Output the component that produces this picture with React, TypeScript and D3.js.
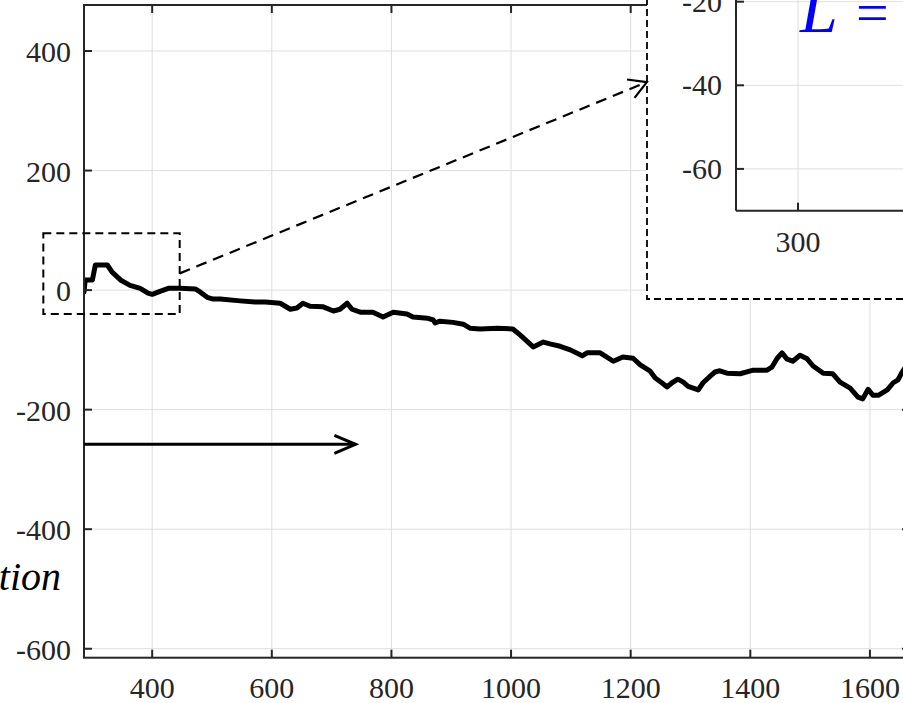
import React from "react";
import * as d3 from "d3";

// ---- data ----
const seriesX = [286, 288, 300, 305, 325, 333, 347, 363, 380, 393, 400, 413, 427, 447, 472, 480, 492, 502, 514, 547, 572, 589, 614, 631, 642, 652, 664, 686, 703, 714, 726, 734, 748, 769, 786, 803, 826, 836, 860, 870, 873, 881, 903, 920, 932, 948, 977, 1003, 1015, 1037, 1054, 1065, 1082, 1099, 1119, 1127, 1149, 1171, 1187, 1204, 1216, 1232, 1241, 1252, 1261, 1269, 1279, 1288, 1296, 1313, 1321, 1333, 1341, 1349, 1361, 1383, 1405, 1428, 1436, 1445, 1453, 1461, 1471, 1483, 1495, 1505, 1522, 1538, 1550, 1567, 1580, 1588, 1597, 1605, 1614, 1629, 1639, 1647, 1654, 1667];
const seriesY = [-3, 17, 17, 42, 42, 30, 17, 8, 3, -5, -7, -2, 3, 3, 2, -3, -12, -15, -15, -18, -20, -20, -22, -32, -30, -22, -27, -28, -35, -32, -22, -32, -37, -37, -45, -37, -40, -45, -47, -50, -55, -52, -54, -57, -64, -65, -64, -65, -75, -95, -87, -90, -94, -100, -110, -105, -105, -119, -112, -114, -125, -135, -147, -155, -162, -155, -149, -154, -161, -167, -155, -144, -137, -135, -139, -140, -134, -134, -129, -114, -105, -115, -119, -109, -115, -127, -139, -140, -154, -164, -179, -182, -166, -176, -176, -167, -155, -150, -137, -117];

const xTicks = [400, 600, 800, 1000, 1200, 1400, 1600];
const yTicks = [-600, -400, -200, 0, 200, 400];
const insetXTicks = [300];
const insetYTicks = [-60, -40, -20];

const xDomain = [286, 1667];
const yDomain = [-615, 477];
const insetXDomain = [280, 450];
const insetYDomain = [-70, 50];

// annotation positions in data units of the main axes
const zoomRectX = [218, 446];
const zoomRectY = [-40, 95];
const dashArrowFrom = [446, 28];
const dashArrowTo = [1227, 348];
const solidArrowX = [286, 740];
const solidArrowY = -258;

const yLabelText = "tion";
const insetTitle = "L";
const insetEq = "=";

const FONT = "'Liberation Serif', 'Times New Roman', serif";
const AX = "#262626";
const GRID = "#dedede";

export default function App() {
  const W = 903, H = 703;
  const L = 84, R = 910, T = 5, B = 657.7;
  const x = d3.scaleLinear().domain(xDomain).range([L, R]);
  const y = d3.scaleLinear().domain(yDomain).range([B, T]);

  const pts: [number, number][] = seriesX.map((v, i) => [v, seriesY[i]]);
  const line = d3.line<[number, number]>().x(d => x(d[0])).y(d => y(d[1]));

  // inset
  const iL = 736, iB = 210.7;
  const ix = d3.scaleLinear().domain(insetXDomain).range([iL, iL + 170 * 3.1]);
  const iy = d3.scaleLinear().domain(insetYDomain).range([iB, iB - 120 * 4.18]);
  const iline = d3.line<[number, number]>().x(d => ix(d[0])).y(d => iy(d[1]));
  const insetBoxL = 647, insetBoxB = 299;

  const arrowHead = (x1: number, y1: number, x2: number, y2: number, len: number, ang: number) => {
    const a = Math.atan2(y1 - y2, x1 - x2);
    const p1 = [x2 + len * Math.cos(a + ang), y2 + len * Math.sin(a + ang)];
    const p2 = [x2 + len * Math.cos(a - ang), y2 + len * Math.sin(a - ang)];
    return `M${p1[0]},${p1[1]}L${x2},${y2}L${p2[0]},${p2[1]}`;
  };

  const da1 = [x(dashArrowFrom[0]), y(dashArrowFrom[1])];
  const da2 = [x(dashArrowTo[0]), y(dashArrowTo[1])];
  const sa1 = [x(solidArrowX[0]), y(solidArrowY)];
  const sa2 = [x(solidArrowX[1]), y(solidArrowY)];

  return (
    <svg width={W} height={H} style={{ position: "absolute", left: 0, top: 0, background: "#fff" }}
      fontFamily={FONT}>
      <defs>
        <clipPath id="mainClip"><rect x={L} y={T} width={R - L} height={B - T} /></clipPath>
        <clipPath id="insetClip"><rect x={iL} y={-400} width={600} height={iB + 400} /></clipPath>
      </defs>
      <rect x={0} y={0} width={W} height={H} fill="#fff" />
      {/* grid */}
      {xTicks.map(t => (
        <line key={"gx" + t} x1={x(t)} x2={x(t)} y1={T} y2={B} stroke={GRID} strokeWidth={1} />
      ))}
      {yTicks.map(t => (
        <line key={"gy" + t} x1={L} x2={R} y1={y(t)} y2={y(t)} stroke={GRID} strokeWidth={1} />
      ))}
      {/* data */}
      <path d={line(pts) || ""} fill="none" stroke="#000" strokeWidth={5}
        strokeLinejoin="round" strokeLinecap="round" clipPath="url(#mainClip)" />
      {/* axes box */}
      <rect x={L} y={T} width={R - L} height={B - T} fill="none" stroke={AX} strokeWidth={2} />
      {xTicks.map(t => (
        <g key={"tx" + t}>
          <line x1={x(t)} x2={x(t)} y1={B} y2={B - 8} stroke={AX} strokeWidth={2} />
          <line x1={x(t)} x2={x(t)} y1={T} y2={T + 8} stroke={AX} strokeWidth={2} />
          <text x={x(t)} y={B + 40} textAnchor="middle" fontSize={30} fill={AX}>{t}</text>
        </g>
      ))}
      {yTicks.map(t => (
        <g key={"ty" + t}>
          <line x1={L} x2={L + 8} y1={y(t)} y2={y(t)} stroke={AX} strokeWidth={2} />
          <line x1={R} x2={R - 8} y1={y(t)} y2={y(t)} stroke={AX} strokeWidth={2} />
          <text x={L - 13} y={y(t) + 11} textAnchor="end" fontSize={30} fill={AX}>{t}</text>
        </g>
      ))}
      <text x={61} y={590} textAnchor="end" fontSize={40} fontStyle="italic" fill="#000">{yLabelText}</text>

      {/* solid arrow */}
      <line x1={sa1[0]} y1={sa1[1]} x2={sa2[0]} y2={sa2[1]} stroke="#000" strokeWidth={3} />
      <path d={arrowHead(sa1[0], sa1[1], sa2[0], sa2[1], 23, 0.4)} fill="none" stroke="#000"
        strokeWidth={3} strokeLinejoin="miter" />

      {/* zoom rectangle */}
      <rect x={x(zoomRectX[0])} y={y(zoomRectY[1])} width={x(zoomRectX[1]) - x(zoomRectX[0])}
        height={y(zoomRectY[0]) - y(zoomRectY[1])} fill="none" stroke="#000" strokeWidth={2}
        strokeDasharray="8,5" />

      {/* inset */}
      <rect x={insetBoxL} y={-10} width={W + 20 - insetBoxL} height={insetBoxB + 10} fill="#fff"
        stroke="#000" strokeWidth={1.8} strokeDasharray="7,4" />
      {insetXTicks.map(t => (
        <line key={"igx" + t} x1={ix(t)} x2={ix(t)} y1={-10} y2={iB} stroke={GRID} strokeWidth={1} />
      ))}
      {insetYTicks.map(t => (
        <line key={"igy" + t} x1={iL} x2={W + 20} y1={iy(t)} y2={iy(t)} stroke={GRID} strokeWidth={1} />
      ))}
      <path d={iline(pts) || ""} fill="none" stroke="#000" strokeWidth={5}
        strokeLinejoin="round" clipPath="url(#insetClip)" />
      <line x1={iL} x2={iL} y1={-10} y2={iB} stroke={AX} strokeWidth={2} />
      <line x1={iL} x2={W + 20} y1={iB} y2={iB} stroke={AX} strokeWidth={2} />
      {insetXTicks.map(t => (
        <g key={"itx" + t}>
          <line x1={ix(t)} x2={ix(t)} y1={iB} y2={iB - 8} stroke={AX} strokeWidth={2} />
          <text x={ix(t)} y={iB + 41} textAnchor="middle" fontSize={30} fill={AX}>{t}</text>
        </g>
      ))}
      {insetYTicks.map(t => (
        <g key={"ity" + t}>
          <line x1={iL} x2={iL + 8} y1={iy(t)} y2={iy(t)} stroke={AX} strokeWidth={2} />
          <text x={iL - 14} y={iy(t) + 10} textAnchor="end" fontSize={30} fill={AX}>{t}</text>
        </g>
      ))}
      <text x={800} y={32} fontSize={68} fontStyle="italic" fill="#0000ff">{insetTitle}</text>
      <text x={856} y={32} fontSize={58} fill="#0000ff">{insetEq}</text>

      {/* dashed arrow */}
      <line x1={da1[0]} y1={da1[1]} x2={da2[0]} y2={da2[1]} stroke="#000" strokeWidth={2.2}
        strokeDasharray="11,7" />
      <path d={arrowHead(da1[0], da1[1], da2[0], da2[1], 20, 0.52)} fill="none" stroke="#000"
        strokeWidth={2.2} />
    </svg>
  );
}
